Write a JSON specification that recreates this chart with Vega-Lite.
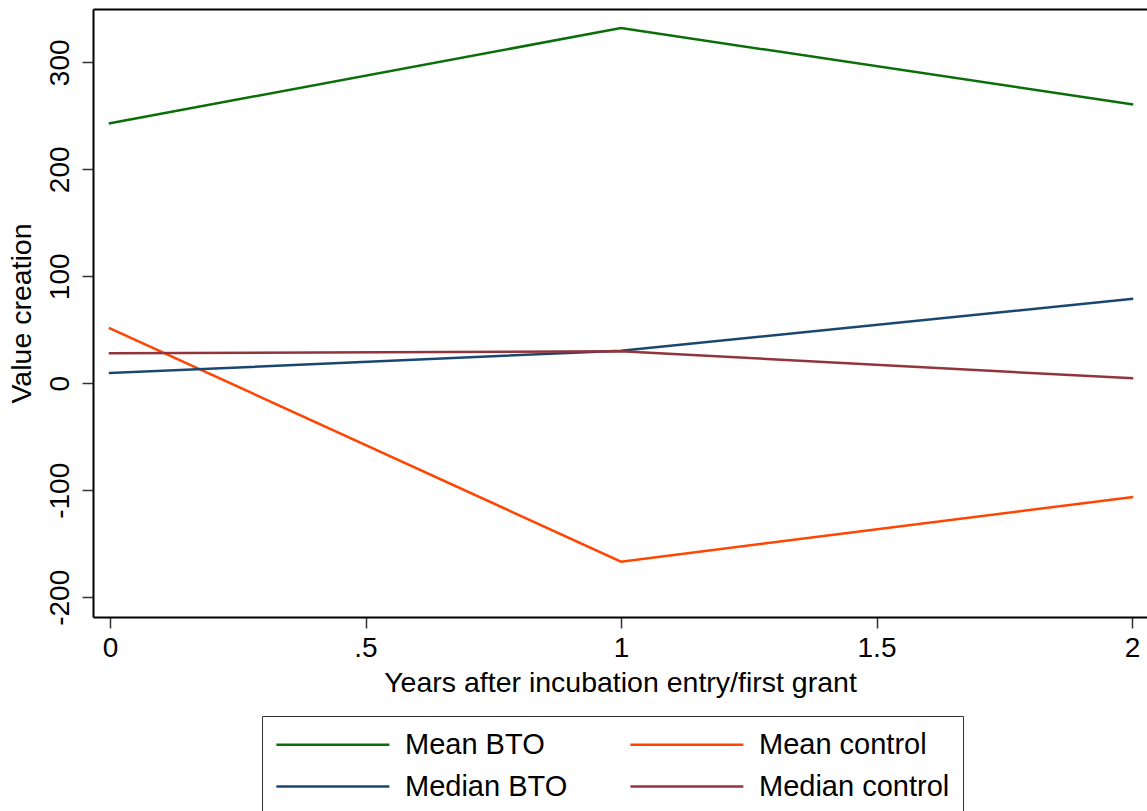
{
  "$schema": "https://vega.github.io/schema/vega-lite/v6.json",
  "width": 1054,
  "height": 608,
  "autosize": {"type": "none"},
  "padding": {"left": 93, "top": 9, "right": 0, "bottom": 194},
  "background": "white",
  "config": {
    "view": {"stroke": null},
    "font": "Liberation Sans",
    "axis": {
      "grid": false,
      "domainColor": "#000000",
      "domainWidth": 2,
      "tickColor": "#333333",
      "tickWidth": 1.5,
      "tickSize": 11,
      "labelFont": "Liberation Sans",
      "labelFontSize": 28,
      "labelColor": "#000000",
      "titleFont": "Liberation Sans",
      "titleFontSize": 28.5,
      "titleFontWeight": "normal",
      "titleColor": "#000000"
    },
    "legend": {
      "labelFont": "Liberation Sans",
      "labelFontSize": 29,
      "labelColor": "#000000"
    }
  },
  "data": {
    "values": [
      {"year": 0, "series": "Mean BTO", "value": 243},
      {"year": 1, "series": "Mean BTO", "value": 332},
      {"year": 2, "series": "Mean BTO", "value": 260.7},
      {"year": 0, "series": "Mean control", "value": 51.4},
      {"year": 1, "series": "Mean control", "value": -166.7},
      {"year": 2, "series": "Mean control", "value": -106.3},
      {"year": 0, "series": "Median BTO", "value": 9.6},
      {"year": 1, "series": "Median BTO", "value": 30.5},
      {"year": 2, "series": "Median BTO", "value": 78.8},
      {"year": 0, "series": "Median control", "value": 28},
      {"year": 1, "series": "Median control", "value": 30},
      {"year": 2, "series": "Median control", "value": 4.7}
    ]
  },
  "layer": [
    {
      "mark": {"type": "line", "strokeWidth": 2.5, "strokeCap": "square"},
      "encoding": {
        "x": {
          "field": "year",
          "type": "quantitative",
          "scale": {"domain": [-0.03327, 2.02935], "nice": false, "zero": false},
          "axis": {
            "orient": "bottom",
            "values": [0, 0.5, 1, 1.5, 2],
            "labelExpr": "datum.value == 0.5 ? '.5' : '' + datum.value",
            "labelPadding": 6,
            "title": "Years after incubation entry/first grant",
            "titlePadding": 6
          }
        },
        "y": {
          "field": "value",
          "type": "quantitative",
          "scale": {"domain": [-218.4, 349.8], "nice": false, "zero": false},
          "axis": {
            "values": [-200, -100, 0, 100, 200, 300],
            "labelExpr": "'' + datum.value",
            "labelAngle": -90,
            "labelPadding": 8,
            "title": "Value creation",
            "titlePadding": 10
          }
        },
        "color": {
          "field": "series",
          "type": "nominal",
          "scale": {
            "domain": ["Mean BTO", "Mean control", "Median BTO", "Median control"],
            "range": ["#0a6e0a", "#ff4500", "#1a476f", "#90353b"]
          },
          "legend": {
            "title": null,
            "orient": "none",
            "direction": "horizontal",
            "legendX": 169,
            "legendY": 707,
            "columns": 2,
            "symbolType": "M-1,0H7",
            "symbolSize": 798,
            "symbolStrokeWidth": 2.5,
            "labelOffset": 99,
            "labelLimit": 400,
            "columnPadding": 57,
            "rowPadding": 11,
            "padding": 13,
            "strokeColor": "#333333",
            "fillColor": "#ffffff"
          }
        }
      }
    },
    {
      "mark": {"type": "line", "opacity": 0},
      "encoding": {
        "x": {
          "field": "year",
          "type": "quantitative",
          "axis": {
            "orient": "top",
            "labels": false,
            "ticks": false,
            "title": null
          }
        },
        "y": {"field": "value", "type": "quantitative"}
      }
    }
  ],
  "resolve": {"axis": {"x": "independent"}}
}
